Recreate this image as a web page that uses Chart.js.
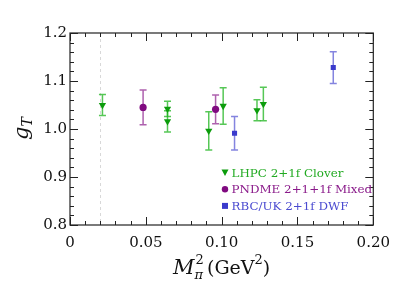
<!DOCTYPE html>
<html><head><meta charset="utf-8">
<script src="https://cdn.jsdelivr.net/npm/chart.js@4"></script>
<style>html,body{margin:0;padding:0;background:#fff}#wrap{width:399px;height:301px}</style>
</head><body><div id="wrap"><canvas id="c" width="399" height="301"></canvas></div>
<script>
const seriesNames = ["LHPC 2+1f Clover", "PNDME 2+1+1f Mixed", "RBC/UK 2+1f DWF"];
const lhpcX = [0.0214, 0.0643, 0.0643, 0.0915, 0.101, 0.1233, 0.1275];
const lhpcY = [1.050, 1.042, 1.016, 0.996, 1.048, 1.039, 1.052];
const lhpcErr = [0.022, 0.016, 0.022, 0.040, 0.038, 0.022, 0.035];
const pndmeX = [0.0482, 0.096];
const pndmeY = [1.045, 1.041];
const pndmeErr = [0.036, 0.030];
const rbcX = [0.1085, 0.1736];
const rbcY = [0.991, 1.128];
const rbcErr = [0.035, 0.033];
const xTickLabels = ["0", "0.05", "0.10", "0.15", "0.20"];
const yTickLabels = ["0.8", "0.9", "1.0", "1.1", "1.2"];
const physPoint = 0.0195;

const FONT = "'DejaVu Serif', 'Liberation Serif', serif";
function pts(xs, ys, es){ return xs.map((x,i)=>({x:x, y:ys[i], e:es[i]})); }

const colors = [
  {pt:'#0c9c0c', bar:'rgba(30,180,30,0.75)', text:'#22aa22'},
  {pt:'#800a80', bar:'rgba(140,30,140,0.7)', text:'#8a1a8a'},
  {pt:'#3a3acc', bar:'rgba(80,80,210,0.7)', text:'#4a4ad0'}
];

const errorBars = {
  id:'errorBars',
  beforeDatasetsDraw(chart){
    const ctx = chart.ctx, ys = chart.scales.y, xs = chart.scales.x, a = chart.chartArea;
    ctx.save();
    ctx.strokeStyle = '#d8d8d8'; ctx.lineWidth = 1; ctx.setLineDash([3,3]);
    const px = Math.round(xs.getPixelForValue(physPoint))+0.5;
    ctx.beginPath(); ctx.moveTo(px, a.top); ctx.lineTo(px, a.bottom); ctx.stroke();
    ctx.setLineDash([]);
    chart.data.datasets.forEach((ds, di)=>{
      ctx.strokeStyle = colors[di].bar; ctx.lineWidth = 1.5;
      ds.data.forEach(p=>{
        const x = xs.getPixelForValue(p.x);
        const y1 = ys.getPixelForValue(p.y + p.e), y2 = ys.getPixelForValue(p.y - p.e);
        ctx.beginPath();
        ctx.moveTo(x, y1); ctx.lineTo(x, y2);
        ctx.moveTo(x-3.5, y1); ctx.lineTo(x+3.5, y1);
        ctx.moveTo(x-3.5, y2); ctx.lineTo(x+3.5, y2);
        ctx.stroke();
      });
    });
    ctx.restore();
  },
  afterDraw(chart){
    const ctx = chart.ctx, ys = chart.scales.y, xs = chart.scales.x, a = chart.chartArea;
    ctx.save();
    ctx.strokeStyle = '#222'; ctx.lineWidth = 1.2;
    ctx.strokeRect(a.left, a.top, a.right-a.left, a.bottom-a.top);
    ctx.lineWidth = 1;
    for (let i=0;i<=20;i++){
      const v = i*0.01, x = Math.round(xs.getPixelForValue(v))+0.5;
      const L = (i%5===0)?8:4;
      ctx.beginPath();
      ctx.moveTo(x, a.bottom); ctx.lineTo(x, a.bottom-L);
      ctx.moveTo(x, a.top); ctx.lineTo(x, a.top+L);
      ctx.stroke();
    }
    for (let i=0;i<=20;i++){
      const v = 0.8+i*0.02, y = Math.round(ys.getPixelForValue(v))+0.5;
      const L = (i%5===0)?8:4;
      ctx.beginPath();
      ctx.moveTo(a.left, y); ctx.lineTo(a.left+L, y);
      ctx.moveTo(a.right, y); ctx.lineTo(a.right-L, y);
      ctx.stroke();
    }
    // legend
    const lx = 225, ly0 = 172.5, dy = 16.7;
    ctx.font = "11.9px " + FONT; ctx.textBaseline = 'middle'; ctx.textAlign = 'left';
    chart.data.datasets.forEach((ds, di)=>{
      const y = ly0 + di*dy;
      ctx.fillStyle = colors[di].pt;
      ctx.beginPath();
      if (di===0){ ctx.moveTo(lx-3.5, y-3); ctx.lineTo(lx+3.5, y-3); ctx.lineTo(lx, y+3.5); ctx.closePath(); }
      else if (di===1){ ctx.arc(lx, y, 3.2, 0, Math.PI*2); }
      else { ctx.rect(lx-3, y-3, 6, 6); }
      ctx.fill();
      ctx.fillStyle = colors[di].text;
      ctx.fillText(ds.label, lx+6.5, y+1);
    });
    ctx.fillStyle = '#111';
    ctx.save();
    ctx.translate(28, 129); ctx.rotate(-Math.PI/2);
    ctx.textAlign='left'; ctx.textBaseline='alphabetic';
    ctx.font = "italic 21px " + FONT;
    const gw = ctx.measureText('g').width;
    ctx.fillText('g', -11, 0);
    ctx.font = "italic 14px " + FONT;
    ctx.fillText('T', -11+gw, 4);
    ctx.restore();
    ctx.textAlign='left'; ctx.textBaseline='alphabetic';
    let x = 173; const by = 274;
    ctx.font = "italic 21px " + FONT; ctx.fillText('M', x, by); x += ctx.measureText('M').width;
    ctx.font = "italic 13px " + FONT; ctx.fillText('π', x, by+5);
    ctx.font = "13px " + FONT; ctx.fillText('2', x+1, by-10);
    x = 207;
    ctx.font = "19px " + FONT; ctx.fillText('(GeV', x, by); x += ctx.measureText('(GeV').width;
    ctx.font = "13px " + FONT; ctx.fillText('2', x, by-10); x += ctx.measureText('2').width;
    ctx.font = "19px " + FONT; ctx.fillText(')', x, by);
    ctx.restore();
  }
};

new Chart(document.getElementById('c'), {
  type:'scatter',
  data:{datasets:[
    {label:seriesNames[0], data:pts(lhpcX,lhpcY,lhpcErr), pointStyle:'triangle', rotation:180, pointRadius:4.2, backgroundColor:colors[0].pt, borderColor:colors[0].pt, borderWidth:0},
    {label:seriesNames[1], data:pts(pndmeX,pndmeY,pndmeErr), pointStyle:'circle', pointRadius:3.6, backgroundColor:colors[1].pt, borderColor:colors[1].pt, borderWidth:0},
    {label:seriesNames[2], data:pts(rbcX,rbcY,rbcErr), pointStyle:'rect', pointRadius:3.6, backgroundColor:colors[2].pt, borderColor:colors[2].pt, borderWidth:0}
  ]},
  options:{
    responsive:false, animation:false, devicePixelRatio:1,
    layout:{padding:{left:0, right:17, top:33, bottom:0}},
    plugins:{legend:{display:false}, tooltip:{enabled:false}},
    scales:{
      x:{type:'linear', min:0, max:0.2,
         afterBuildTicks(s){ s.ticks = xTickLabels.map((t,i)=>({value:i*0.05})); },
         afterFit(s){ s.height = 76; },
         grid:{display:false, drawTicks:false}, border:{display:false},
         ticks:{padding:9, color:'#111', font:{family:FONT, size:15}, maxRotation:0, callback:(v,i)=>xTickLabels[i]}},
      y:{type:'linear', min:0.8, max:1.2,
         afterBuildTicks(s){ s.ticks = yTickLabels.map((t,i)=>({value:0.8+i*0.1})); },
         afterFit(s){ s.width = 70; },
         grid:{display:false, drawTicks:false}, border:{display:false},
         ticks:{padding:3, color:'#111', font:{family:FONT, size:15}, callback:(v,i)=>yTickLabels[i]}}
    }
  },
  plugins:[errorBars]
});
</script></body></html>
